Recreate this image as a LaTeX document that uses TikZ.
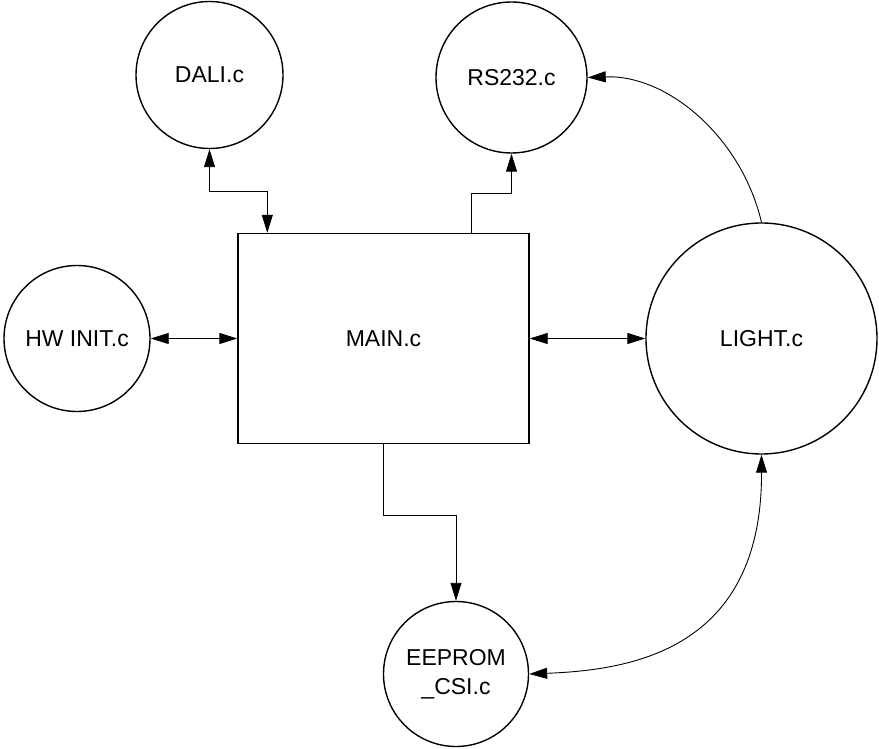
\documentclass[tikz,border=0pt]{standalone}
\usepackage{fontspec}
\setmainfont{Liberation Sans}
\usetikzlibrary{arrows.meta}

\begin{document}
\begin{tikzpicture}[x=1pt,y=-1pt,>={Triangle[length=18pt,width=11pt]},line width=0.9pt,
                    every node/.style={font=\fontsize{23}{29}\selectfont},
                    module/.style={circle,draw,line width=1.4pt,inner sep=0pt,align=center},
                    main box/.style={rectangle,draw,line width=1.4pt,minimum width=291pt,minimum height=210pt}]
\useasboundingbox (0,0) rectangle (879,749);
\node[module,minimum size=147pt] (dali) at (209.5,75) {DALI.c};
\node[module,minimum size=151pt] (rs) at (511.5,77.5) {RS232.c};
\node[module,minimum size=146pt] (hw) at (77,338.5) {HW INIT.c};
\node[main box] (main) at (383.5,338.5) {MAIN.c};
\node[module,minimum size=231pt] (light) at (761.5,338.5) {LIGHT.c};
\node[module,minimum size=145pt] (eeprom) at (456,674) {EEPROM\\\_CSI.c};

\draw[<->] (dali.south) -- ++(0,42) -| ([xshift=30pt]main.north west);
\draw[->] ([xshift=-58pt]main.north east) -- ++(0,-39) -| (rs.south);
\draw[<->] (hw.east) -- (main.west);
\draw[<->] (main.east) -- (light.west);
\draw[->] (main.south) -- ++(0,71) -| (eeprom.north);
\draw[->] (light.north) .. controls +(-20,-85) and +(80,-3) .. (rs.east);
\draw[<->] (light.south) .. controls +(0.5,196) and +(101,-4) .. (eeprom.east);
\end{tikzpicture}
\end{document}
